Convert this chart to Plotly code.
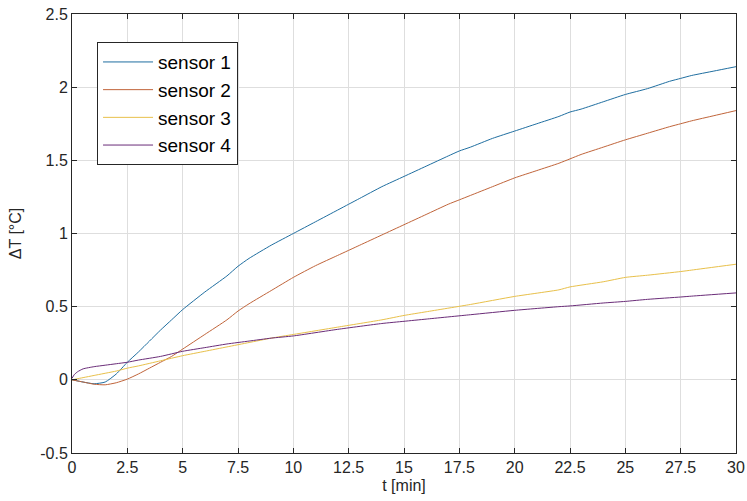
import plotly.graph_objects as go

t1 = [0, 0.5, 1, 1.5, 2, 2.5, 3, 3.5, 4, 4.5, 5, 6, 7, 7.5, 8, 9, 10, 11, 12, 12.5, 13, 14, 15, 16, 17, 17.5, 18, 19, 20, 21, 22, 22.5, 23, 24, 25, 26, 27, 27.5, 28, 29, 30]
s1 = [0, -0.015, -0.027, -0.015, 0.04, 0.12, 0.19, 0.265, 0.34, 0.41, 0.48, 0.60, 0.71, 0.776, 0.83, 0.92, 1.0, 1.08, 1.16, 1.2, 1.24, 1.32, 1.39, 1.46, 1.53, 1.564, 1.59, 1.65, 1.70, 1.75, 1.80, 1.83, 1.85, 1.90, 1.95, 1.99, 2.04, 2.06, 2.08, 2.11, 2.14]

t2 = [0, 0.5, 1, 1.5, 2, 2.5, 3, 3.5, 4, 4.5, 5, 6, 7, 7.5, 8, 9, 10, 11, 12, 13, 14, 15, 16, 17, 17.5, 18, 19, 20, 21, 22, 22.5, 23, 24, 25, 26, 27, 27.5, 28, 29, 30]
s2 = [0, -0.015, -0.03, -0.034, -0.02, 0.005, 0.04, 0.08, 0.12, 0.16, 0.21, 0.31, 0.41, 0.47, 0.52, 0.61, 0.70, 0.78, 0.85, 0.92, 0.99, 1.06, 1.13, 1.20, 1.23, 1.26, 1.32, 1.38, 1.43, 1.48, 1.51, 1.54, 1.59, 1.64, 1.685, 1.73, 1.75, 1.77, 1.805, 1.84]

t3 = [0, 0.5, 1, 2, 2.5, 3, 4, 5, 6, 7, 8, 9, 10, 12, 14, 15, 16, 18, 20, 22, 22.5, 24, 25, 26, 27.5, 28, 30]
s3 = [0, 0.015, 0.03, 0.06, 0.08, 0.095, 0.13, 0.165, 0.195, 0.225, 0.255, 0.285, 0.31, 0.36, 0.41, 0.44, 0.465, 0.515, 0.57, 0.615, 0.635, 0.67, 0.70, 0.715, 0.74, 0.75, 0.79]

t4 = [0, 0.1, 0.25, 0.5, 1, 1.5, 2, 2.5, 3, 4, 5, 6, 7, 8, 9, 10, 12, 14, 15, 16, 18, 20, 22, 22.5, 24, 25, 26, 27.5, 28, 30]
s4 = [0.01, 0.035, 0.055, 0.075, 0.09, 0.10, 0.11, 0.12, 0.135, 0.16, 0.195, 0.22, 0.245, 0.265, 0.285, 0.30, 0.345, 0.385, 0.40, 0.415, 0.445, 0.475, 0.50, 0.505, 0.525, 0.536, 0.55, 0.566, 0.572, 0.594]

names = ["sensor 1", "sensor 2", "sensor 3", "sensor 4"]
colors = ["#1f6ea0", "#c0643a", "#e8c04a", "#6a2c78"]

x_tickvals = [0, 2.5, 5, 7.5, 10, 12.5, 15, 17.5, 20, 22.5, 25, 27.5, 30]
x_ticktext = ["0", "2.5", "5", "7.5", "10", "12.5", "15", "17.5", "20", "22.5", "25", "27.5", "30"]
y_tickvals = [-0.5, 0, 0.5, 1, 1.5, 2, 2.5]
y_ticktext = ["-0.5", "0", "0.5", "1", "1.5", "2", "2.5"]

FONT = "Liberation Sans, Arial, sans-serif"

fig = go.Figure()
for t, s, n, c in zip([t1, t2, t3, t4], [s1, s2, s3, s4], names, colors):
    fig.add_trace(go.Scatter(x=t, y=s, mode="lines", name=n,
                             line=dict(color=c, width=1, shape="spline", smoothing=0.5)))

axis_common = dict(showline=True, linecolor="#262626", linewidth=1, mirror="ticks",
                   ticks="inside", ticklen=5, tickcolor="#262626",
                   showgrid=True, gridcolor="#dedede", gridwidth=1, zeroline=False,
                   automargin=False,
                   tickfont=dict(family=FONT, size=16, color="#262626"))

fig.update_xaxes(range=[0, 30], tickvals=x_tickvals, ticktext=x_ticktext,
                 title=dict(text="t [min]", standoff=4,
                            font=dict(family=FONT, size=16, color="#262626")),
                 **axis_common)
fig.update_yaxes(range=[-0.5, 2.5], tickvals=y_tickvals, ticktext=y_ticktext,
                 title=dict(text="ΔT [°C]", standoff=14,
                            font=dict(family=FONT, size=16, color="#262626")),
                 **axis_common)

fig.update_layout(
    width=747, height=501,
    margin=dict(l=72, r=11, t=14, b=48),
    paper_bgcolor="white", plot_bgcolor="white",
    showlegend=True,
    legend=dict(x=0.0377, y=0.936, xanchor="left", yanchor="top",
                bgcolor="white", bordercolor="#262626", borderwidth=1,
                itemwidth=50,
                font=dict(family=FONT, size=19, color="#000000")),
)

fig.write_html("out.html")
